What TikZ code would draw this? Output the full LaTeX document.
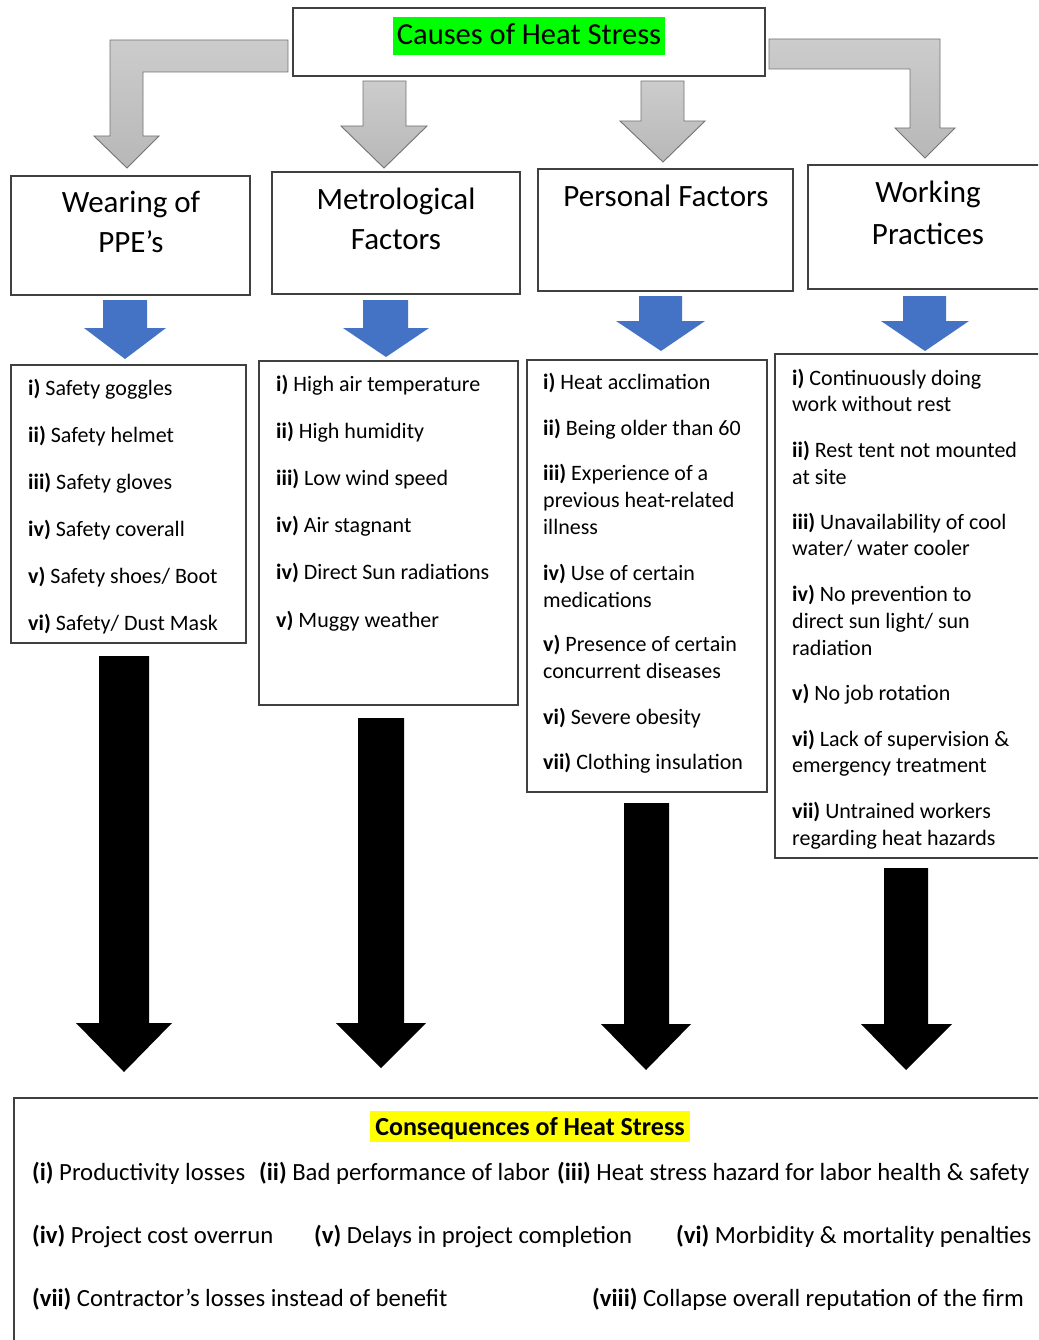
\documentclass[tikz,border=0pt]{standalone}
\usepackage{fontspec}
\setmainfont{Carlito}
\definecolor{arrblue}{RGB}{68,114,196}
\definecolor{boxgray}{RGB}{64,64,64}
\definecolor{hlgreen}{RGB}{0,255,0}
\definecolor{hlyellow}{RGB}{255,255,0}
\tikzset{
  boxline/.style={draw=boxgray, line width=1.3pt, fill=white},
  grayarrow/.style={draw=black!55, line width=0.9pt, top color=black!20, bottom color=black!28},
  bluearrow/.style={fill=arrblue},
  blackarrow/.style={fill=black},
  cattext/.style={font=\fontsize{31}{39}\selectfont, inner sep=0pt, anchor=base},
  itemtext/.style={font=\fontsize{22}{27}\selectfont, inner sep=0pt, anchor=base west},
  constext/.style={font=\fontsize{24.7}{29}\selectfont, inner sep=0pt, anchor=base west},
}
\begin{document}
\begin{tikzpicture}[x=1pt,y=-1pt]
\useasboundingbox (0,0) rectangle (1038,1340);
\clip (0,0) rectangle (1038,1340);
\fill[white] (0,0) rectangle (1038,1340);

% ---------- top box ----------
\node[boxline, minimum width=472, minimum height=68, inner sep=0] (causes) at (529,42) {};
\fill[hlgreen] (393,17) rectangle (665,55);
\node[font=\fontsize{30.5}{36}\selectfont, inner sep=0pt, anchor=base] (causesT) at (529,45) {Causes of Heat Stress};

% ---------- gray arrows ----------
\draw[grayarrow] (288,40) -- (110,40) -- (110,136) -- (94,136) -- (127,168) -- (159,136) -- (143,136) -- (143,72) -- (288,72) -- cycle;
\draw[grayarrow] (363,81) -- (406,81) -- (406,126) -- (427,126) -- (384,168) -- (341,126) -- (363,126) -- cycle;
\draw[grayarrow] (641,81) -- (684,81) -- (684,121) -- (705,121) -- (663,162) -- (620,121) -- (641,121) -- cycle;
\draw[grayarrow] (769,39) -- (940,39) -- (940,128) -- (955,128) -- (925,158) -- (895,128) -- (910,128) -- (910,69) -- (769,69) -- cycle;

% ---------- category boxes ----------
\node[boxline, minimum width=239, minimum height=119, inner sep=0] (wear) at (130.5,235.5) {};
\node[boxline, minimum width=248, minimum height=122, inner sep=0] (metro) at (396,233) {};
\node[boxline, minimum width=255, minimum height=122, inner sep=0] (pers) at (665.5,230) {};
\node[boxline, minimum width=240, minimum height=124, inner sep=0] (work) at (928,227) {};

\node[cattext] (wearA) at (131,213) {Wearing of};
\node[cattext] (wearB) at (131,253) {PPE’s};
\node[cattext] (metroA) at (396,210) {Metrological};
\node[cattext] (metroB) at (396,250) {Factors};
\node[cattext] (persA) at (666,207) {Personal Factors};
\node[cattext] (workA) at (928,203) {Working};
\node[cattext] (workB) at (928,244) {Practices};

% ---------- blue arrows ----------
\fill[bluearrow] (103,300) -- (147,300) -- (147,328) -- (166,328) -- (125,359) -- (84,328) -- (103,328) -- cycle;
\fill[bluearrow] (363,300) -- (408,300) -- (408,328) -- (429,328) -- (386,357) -- (343,328) -- (363,328) -- cycle;
\fill[bluearrow] (639,296) -- (682,296) -- (682,321) -- (705,321) -- (661,351) -- (616,321) -- (639,321) -- cycle;
\fill[bluearrow] (903,296) -- (946,296) -- (946,321) -- (969,321) -- (925,351) -- (881,321) -- (903,321) -- cycle;

% ---------- list boxes ----------
\node[boxline, minimum width=235, minimum height=278, inner sep=0] (ppeL) at (128.5,504) {};
\node[boxline, minimum width=259, minimum height=344, inner sep=0] (metL) at (388.5,533) {};
\node[boxline, minimum width=240, minimum height=432, inner sep=0] (perL) at (647,576) {};
\node[boxline, minimum width=273, minimum height=504, inner sep=0] (wrkL) at (911.5,606) {};

\foreach \y/\t [count=\i] in {
  395/{\textbf{i)} Safety goggles},
  442/{\textbf{ii)} Safety helmet},
  489/{\textbf{iii)} Safety gloves},
  536/{\textbf{iv)} Safety coverall},
  583/{\textbf{v)} Safety shoes/ Boot},
  630/{\textbf{vi)} Safety/ Dust Mask}}
  \node[itemtext] (ppe\i) at (28,\y) {\t};

\foreach \y/\t [count=\i] in {
  391/{\textbf{i)} High air temperature},
  438/{\textbf{ii)} High humidity},
  485/{\textbf{iii)} Low wind speed},
  532/{\textbf{iv)} Air stagnant},
  579/{\textbf{iv)} Direct Sun radiations},
  627/{\textbf{v)} Muggy weather}}
  \node[itemtext] (met\i) at (276,\y) {\t};

\foreach \y/\t [count=\i] in {
  389/{\textbf{i)} Heat acclimation},
  435/{\textbf{ii)} Being older than 60},
  480/{\textbf{iii)} Experience of a},
  507/{previous heat-related},
  534/{illness},
  580/{\textbf{iv)} Use of certain},
  607/{medications},
  651/{\textbf{v)} Presence of certain},
  678/{concurrent diseases},
  724/{\textbf{vi)} Severe obesity},
  769/{\textbf{vii)} Clothing insulation}}
  \node[itemtext] (per\i) at (543,\y) {\t};

\foreach \y/\t [count=\i] in {
  385/{\textbf{i)} Continuously doing},
  411/{work without rest},
  457/{\textbf{ii)} Rest tent not mounted},
  484/{at site},
  529/{\textbf{iii)} Unavailability of cool},
  555/{water/ water cooler},
  601/{\textbf{iv)} No prevention to},
  628/{direct sun light/ sun},
  655/{radiation},
  700/{\textbf{v)} No job rotation},
  746/{\textbf{vi)} Lack of supervision \&},
  772/{emergency treatment},
  818/{\textbf{vii)} Untrained workers},
  845/{regarding heat hazards}}
  \node[itemtext] (wrk\i) at (792,\y) {\t};

% ---------- black arrows ----------
\fill[blackarrow] (99,656) -- (149,656) -- (149,1023) -- (172,1023) -- (124,1072) -- (76,1023) -- (99,1023) -- cycle;
\fill[blackarrow] (358,718) -- (404,718) -- (404,1023) -- (426,1023) -- (381,1068) -- (336,1023) -- (358,1023) -- cycle;
\fill[blackarrow] (624,803) -- (669,803) -- (669,1024) -- (691,1024) -- (646,1070) -- (601,1024) -- (624,1024) -- cycle;
\fill[blackarrow] (884,868) -- (928,868) -- (928,1024) -- (952,1024) -- (906,1070) -- (861,1024) -- (884,1024) -- cycle;

% ---------- consequences ----------
\node[boxline, minimum width=1034, minimum height=252, inner sep=0] (cons) at (531,1224) {};
\fill[hlyellow] (370,1111) rectangle (690,1142);
\node[font=\fontsize{26}{30}\selectfont\bfseries, inner sep=0pt, anchor=base] (consT) at (530,1135) {Consequences of Heat Stress};

\node[constext] (c1) at (32,1180) {\textbf{(i)} Productivity losses};
\node[constext] (c2) at (259,1180) {\textbf{(ii)} Bad performance of labor};
\node[constext] (c3) at (557,1180) {\textbf{(iii)} Heat stress hazard for labor health \& safety};
\node[constext] (c4) at (32,1243) {\textbf{(iv)} Project cost overrun};
\node[constext] (c5) at (314,1243) {\textbf{(v)} Delays in project completion};
\node[constext] (c6) at (676,1243) {\textbf{(vi)} Morbidity \& mortality penalties};
\node[constext] (c7) at (32,1306) {\textbf{(vii)} Contractor’s losses instead of benefit};
\node[constext] (c8) at (592,1306) {\textbf{(viii)} Collapse overall reputation of the firm};
\end{tikzpicture}
\end{document}
